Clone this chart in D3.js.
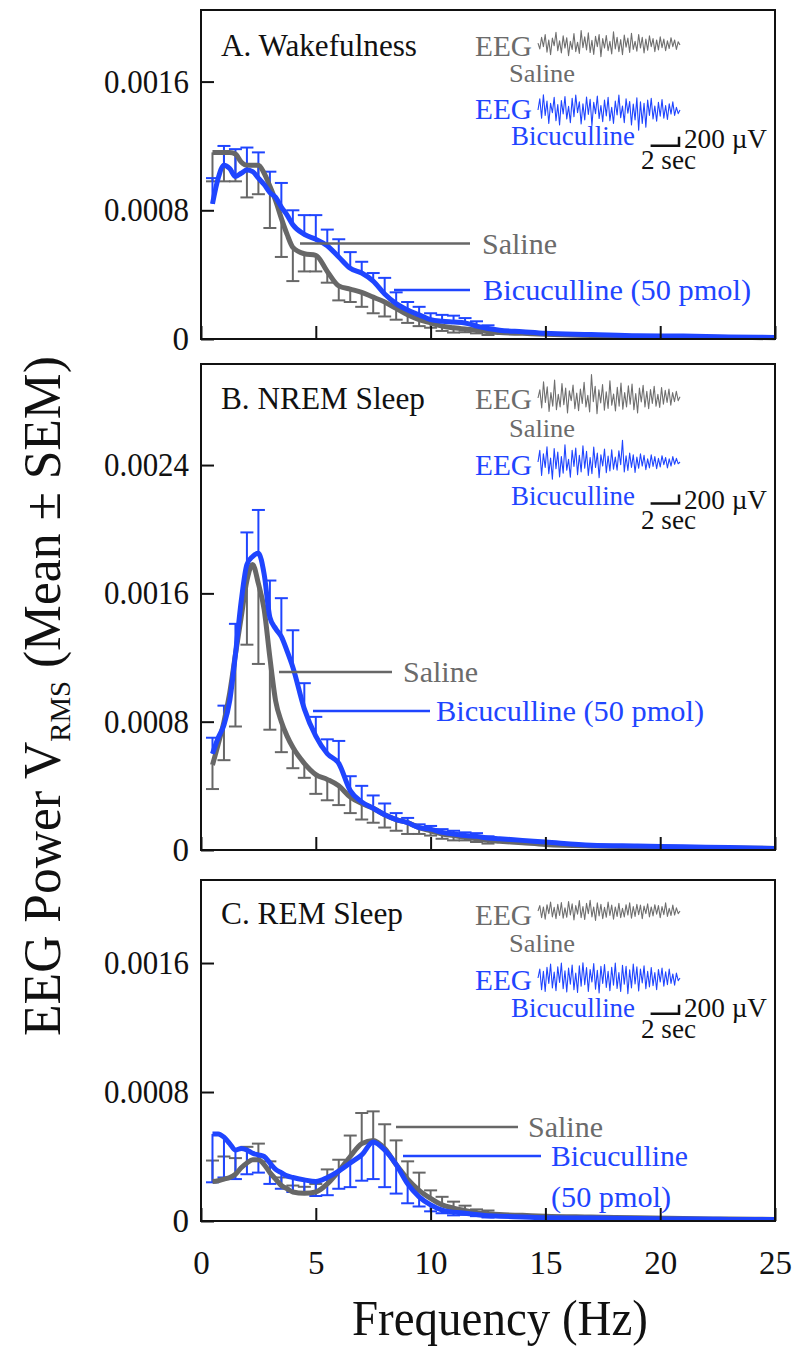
<!DOCTYPE html>
<html><head><meta charset="utf-8">
<script src="https://cdn.jsdelivr.net/npm/d3@7"></script>
<style>body{margin:0;background:#fff}svg{display:block}text{font-family:"Liberation Serif","Times New Roman",serif}</style>
</head><body>
<svg id="c" width="793" height="1346"></svg>
<script>
// ---------- DATA ----------
const freqs = [0.5,0.75,1,1.25,1.5,1.75,2,2.25,2.5,2.75,3,3.25,3.5,3.75,4,4.5,5,5.5,6,6.5,7,7.5,8,8.5,9,9.5,10,10.5,11,11.5,12,12.5,13,14,15,17,19,21,23,25];
const errFreqs = [0.5,1,1.5,2,2.5,3,3.5,4,4.5,5,5.5,6,6.5,7,7.5,8,8.5,9,9.5,10,10.5,11,11.5,12,12.5];
const xTicks = [0,5,10,15,20,25];
const yTicksA = [0,0.0008,0.0016];
const yTicksB = [0,0.0008,0.0016,0.0024];
const yTicksC = [0,0.0008,0.0016];

const wakeSaline = [0.00116,0.00116,0.00116,0.00116,0.00115,0.00110,0.00108,0.00108,0.00108,0.00103,0.00095,0.00086,0.00075,0.00065,0.00057,0.00053,0.00052,0.00042,0.00033,0.00031,0.00029,0.00026,0.00023,0.00019,0.00015,0.00012,0.00010,0.00008,0.00007,0.000062,0.000055,0.000045,0.00004,0.000035,0.00003,0.000022,0.000015,0.000012,0.00001,0.000008];
const wakeBic = [0.00084,0.00100,0.00108,0.00106,0.00101,0.00103,0.00105,0.00104,0.00100,0.00096,0.00091,0.00088,0.00082,0.00077,0.00071,0.00065,0.00062,0.00058,0.00051,0.00044,0.00041,0.00036,0.00028,0.00022,0.00018,0.00015,0.00012,0.00011,0.000105,0.0001,0.00008,0.000065,0.000055,0.000045,0.000035,0.000028,0.00002,0.000018,0.000012,0.00001];
const wakeSalineSEM = [0.00018,0.00018,0.00017,0.0002,0.00018,0.00026,0.00024,0.00021,0.00011,0.0001,0.00007,0.00009,0.00008,0.00009,0.0001,0.00009,0.00007,0.00005,0.00004,0.00003,0.00003,0.00003,0.00002,0.00002,0.00002];
const wakeBicSEM = [0.00016,0.00012,0.00017,0.00014,0.00016,0.00013,0.00015,0.00009,0.00012,0.00015,0.0001,0.00011,0.0001,0.00007,0.00005,0.0001,0.00007,0.00005,0.00005,0.00004,0.00004,0.00004,0.00003,0.00003,0.00002];

const nremSaline = [0.00053,0.00066,0.0008,0.00098,0.00122,0.00145,0.00168,0.00178,0.00166,0.0015,0.0012,0.00093,0.0008,0.00071,0.00064,0.00054,0.00047,0.00044,0.0004,0.00033,0.00029,0.00026,0.00022,0.00019,0.00017,0.00014,0.00012,0.0001,0.00009,0.00008,0.00007,0.00006,0.000055,0.000045,0.000035,0.000025,0.00002,0.000015,0.000012,0.00001];
const nremBic = [0.0006,0.0007,0.00078,0.00093,0.00122,0.00155,0.00178,0.00183,0.00185,0.00172,0.00145,0.00138,0.00133,0.00124,0.00114,0.00088,0.00071,0.0006,0.00054,0.00037,0.0003,0.00026,0.00022,0.00019,0.00017,0.00014,0.00013,0.00011,0.0001,0.00009,0.000085,0.000075,0.00007,0.00006,0.00005,0.00003,0.000025,0.00002,0.000015,0.00001];
const nremSalineSEM = [0.00015,0.00024,0.00045,0.0004,0.0005,0.00045,0.00019,0.00013,0.00009,0.00012,0.00013,0.00012,0.0001,0.0001,0.00009,0.00008,0.00007,0.00007,0.00004,0.00003,0.00003,0.00003,0.00002,0.00002,0.00002];
const nremBicSEM = [0.0001,0.00012,0.00019,0.0002,0.00027,0.00023,0.00024,0.00023,0.00016,0.00012,0.00009,0.00014,0.00009,0.0001,0.00008,0.00007,0.00004,0.00003,0.00002,0.00002,0.00002,0.00002,0.00002,0.00002,0.00001];

const remSaline = [0.000245,0.00025,0.00026,0.00027,0.00029,0.00033,0.00036,0.00038,0.00038,0.00035,0.0003,0.00026,0.00022,0.0002,0.00018,0.000172,0.00018,0.00023,0.00031,0.0004,0.00048,0.0005,0.00045,0.00035,0.00026,0.00019,0.00014,0.0001,0.00008,0.000065,0.000052,0.000045,0.00004,0.000035,0.00003,0.000025,0.00002,0.000015,0.000012,0.00001];
const remBic = [0.00054,0.00054,0.00052,0.00048,0.00044,0.00045,0.00044,0.00042,0.00041,0.0004,0.00036,0.00032,0.0003,0.00028,0.00027,0.000255,0.000245,0.00027,0.00031,0.00036,0.00041,0.00049,0.00044,0.00035,0.00023,0.00015,0.0001,0.000068,0.000055,0.000048,0.00004,0.000032,0.00003,0.000025,0.00002,0.000018,0.000015,0.000012,0.00001,0.00001];
const remSalineSEM = [0.00013,0.00014,0.0001,0.0001,0.0001,0.00007,0.00005,0.00004,0.00004,0.00005,0.00009,0.00007,0.00013,0.00019,0.00018,0.00015,0.00015,0.00011,0.00011,0.00005,0.00005,0.00004,0.00003,0.00002,0.00002];
const remBicSEM = [0.0003,0.00025,0.00018,0.00015,0.00011,0.00013,0.0001,0.00009,0.00008,0.00009,0.00011,0.00011,0.00015,0.00016,0.00023,0.00023,0.00018,0.00012,0.00006,0.00004,0.00002,0.00002,0.00001,0.00001,0.00001];

// EEG example traces (µV), 10 s each
const eegWakeSaline = [20,-110,150,-60,210,-180,90,-240,130,-40,260,-150,70,-200,180,-90,140,-260,60,-120,230,-170,40,-210,300,-80,160,-130,250,-190,80,-230,170,-60,210,-280,120,-90,190,-150,60,-220,270,-110,150,-170,100,-240,200,-70,130,-190,240,-120,60,-160,210,-90,150,-200,110,-140,180,-60,120,-170,90,-130,160,-80,110,-150,70,-100,140,-60,90,-120,50,-20];
const eegWakeBic = [0,250,-180,340,-120,200,-300,150,-60,280,-240,120,-330,210,-90,300,-200,80,-280,260,-150,330,-60,180,-310,140,-220,290,-100,240,-350,170,-80,310,-190,100,-260,220,-130,280,-240,60,-300,200,-110,330,-170,90,-280,250,-70,190,-330,130,-220,270,-450,180,-300,150,-380,220,-120,260,-200,90,-250,170,-140,230,-180,100,-210,140,-90,180,-120,60,-80,0];
const eegNremSaline = [0,180,-220,360,-100,250,-300,120,-180,400,-260,80,-200,320,-150,220,-330,160,-60,290,-240,110,-280,200,-120,350,-200,60,-310,520,-80,260,-350,180,-110,300,-270,140,-230,380,-160,90,-290,240,-180,330,-250,120,-200,270,-140,310,-260,100,-330,220,-90,280,-200,150,-240,190,-120,260,-180,80,-210,230,-140,170,-100,200,-160,120,-80,150,-60,30];
const eegNremBic = [0,260,-300,180,-120,340,-260,90,-380,300,-150,220,-330,120,-250,380,-180,60,-340,260,-100,310,-280,150,-220,360,-140,240,-300,100,-260,330,-120,200,-350,160,-90,290,-240,130,-200,270,-160,110,-180,250,-60,480,-220,140,-190,200,-120,160,-230,110,-140,180,-90,150,-170,70,-130,160,-100,120,-150,80,-110,140,-60,100,-130,70,-90,120,-50,80,-40,0];
const eegRemSaline = [0,120,-150,90,-180,140,-60,200,-130,80,-170,150,-100,190,-160,70,-140,210,-90,160,-200,120,-70,230,-150,100,-190,170,-60,240,-130,90,-210,180,-110,150,-170,80,-140,200,-100,130,-180,90,-120,170,-150,60,-130,140,-90,180,-160,100,-120,150,-80,130,-170,110,-60,160,-130,90,-110,140,-70,120,-150,100,-80,180,-120,60,-100,130,-90,70,-60,0];
const eegRemBic = [0,200,-260,150,-300,240,-120,310,-220,130,-280,250,-100,330,-240,160,-310,220,-140,290,-260,110,-320,270,-180,340,-150,230,-300,190,-90,320,-250,170,-330,260,-120,300,-210,150,-280,240,-160,330,-230,120,-300,280,-140,260,-350,180,-220,310,-130,250,-290,200,-110,270,-240,150,-200,230,-170,120,-260,190,-90,220,-180,140,-150,200,-120,90,-160,110,-60,0];

// ---------- STYLE / LAYOUT ----------
const GRAY = "#676767", GRAYT = "#6b6b6b", BLUE = "#1f45ff", INK = "#111";
const svg = d3.select("#c");
const x = d3.scaleLinear().domain([0,25]).range([201,775]);

const panels = [
  {title:"A. Wakefulness", titleW:196, top:10, bottom:339, yMax:0.002045, yTicks:yTicksA,
   sal:wakeSaline, bic:wakeBic, salSem:wakeSalineSEM, bicSem:wakeBicSEM, salDir:-1, bicDir:1,
   eegS:eegWakeSaline, eegB:eegWakeBic,
   ins:{eeg:55.5, saline:82, eegB:118.5, bic:145, bar:145.7, uv:148, sec:169, cs:44, cb:110},
   leg:{sx1:300, sx2:470, sy:243.5, stx:482, bx1:394, bx2:470, by:290, btx:483, split:false}, xLabels:false},
  {title:"B. NREM Sleep", titleW:204, top:364, bottom:850, yMax:0.00303, yTicks:yTicksB,
   sal:nremSaline, bic:nremBic, salSem:nremSalineSEM, bicSem:nremBicSEM, salDir:-1, bicDir:1,
   eegS:eegNremSaline, eegB:eegNremBic,
   ins:{eeg:409, saline:437, eegB:475, bic:505, bar:503.6, uv:508.6, sec:529, cs:398, cb:462},
   leg:{sx1:279, sx2:392, sy:672, stx:403, bx1:313, bx2:430, by:711, btx:436, split:false}, xLabels:false},
  {title:"C. REM Sleep", titleW:182, top:880, bottom:1221, yMax:0.002115, yTicks:yTicksC,
   sal:remSaline, bic:remBic, salSem:remSalineSEM, bicSem:remBicSEM, salDir:1, bicDir:-1,
   eegS:eegRemSaline, eegB:eegRemBic,
   ins:{eeg:925, saline:952, eegB:989.6, bic:1016.5, bar:1013.8, uv:1016.5, sec:1038, cs:911, cb:978},
   leg:{sx1:396, sx2:518, sy:1127, stx:528, bx1:403, bx2:541, by:1156, btx:551, split:true}, xLabels:true}
];

function fit(sel, w){ return sel.attr("textLength", w).attr("lengthAdjust","spacingAndGlyphs"); }
const yFmt = d => d === 0 ? "0" : d.toFixed(4);

panels.forEach(P => {
  const y = d3.scaleLinear().domain([0, P.yMax]).range([P.bottom, P.top]);
  const g = svg.append("g");

  // error bars
  function bars(vals, sems, dir, color){
    const data = errFreqs.map((f,i) => ({f, m: vals[freqs.indexOf(f)], e: vals[freqs.indexOf(f)] + dir*sems[i]}));
    const bg = g.append("g").attr("stroke", color).attr("stroke-width", 2);
    bg.selectAll("line.v").data(data).join("line").attr("class","v")
      .attr("x1", d => x(d.f)).attr("x2", d => x(d.f))
      .attr("y1", d => y(d.m)).attr("y2", d => y(d.e));
    bg.selectAll("line.c").data(data).join("line").attr("class","c")
      .attr("x1", d => x(d.f)-6.5).attr("x2", d => x(d.f)+6.5)
      .attr("y1", d => y(d.e)).attr("y2", d => y(d.e));
  }
  bars(P.sal, P.salSem, P.salDir, GRAY);
  bars(P.bic, P.bicSem, P.bicDir, BLUE);

  const line = d3.line().x(d => x(d[0])).y(d => y(d[1])).curve(d3.curveMonotoneX);
  g.append("path").attr("d", line(freqs.map((f,i)=>[f,P.sal[i]])))
    .attr("fill","none").attr("stroke",GRAY).attr("stroke-width",5).attr("stroke-linejoin","round");
  g.append("path").attr("d", line(freqs.map((f,i)=>[f,P.bic[i]])))
    .attr("fill","none").attr("stroke",BLUE).attr("stroke-width",5).attr("stroke-linejoin","round");

  // frame
  svg.append("rect").attr("x",201).attr("y",P.top).attr("width",574).attr("height",P.bottom-P.top)
    .attr("fill","none").attr("stroke",INK).attr("stroke-width",2);

  // axes
  const ya = svg.append("g").attr("transform","translate(201,0)")
    .call(d3.axisLeft(y).tickValues(P.yTicks).tickSize(-13).tickPadding(12).tickFormat(yFmt));
  ya.select(".domain").remove();
  ya.selectAll("line").attr("stroke",INK).attr("stroke-width",2);
  ya.selectAll("text").attr("font-size",33).attr("fill",INK)
    .each(function(d){ if(d!==0) fit(d3.select(this),85); });

  const xa = svg.append("g").attr("transform",`translate(0,${P.bottom})`)
    .call(d3.axisBottom(x).tickValues(xTicks).tickSize(-13).tickFormat(P.xLabels ? d3.format("d") : ""));
  xa.select(".domain").remove();
  xa.selectAll("line").attr("stroke",INK).attr("stroke-width",2);
  xa.selectAll("text").attr("font-size",33).attr("fill",INK).attr("y",53).attr("dy",0);

  // title
  fit(svg.append("text").attr("x",221).attr("y",P.title==="A. Wakefulness"?55.5:(P.title[0]==="B"?409:924))
    .attr("font-size",31).attr("fill",INK).text(P.title), P.titleW);

  // legend
  const L = P.leg;
  svg.append("line").attr("x1",L.sx1).attr("x2",L.sx2).attr("y1",L.sy).attr("y2",L.sy).attr("stroke",GRAY).attr("stroke-width",2.5);
  svg.append("line").attr("x1",L.bx1).attr("x2",L.bx2).attr("y1",L.by).attr("y2",L.by).attr("stroke",BLUE).attr("stroke-width",2.5);
  fit(svg.append("text").attr("x",L.stx).attr("y",L.sy+10).attr("font-size",30).attr("fill",GRAYT).text("Saline"),75);
  if(!L.split){
    fit(svg.append("text").attr("x",L.btx).attr("y",L.by+10).attr("font-size",30).attr("fill",BLUE).text("Bicuculline (50 pmol)"),268);
  } else {
    fit(svg.append("text").attr("x",L.btx).attr("y",L.by+10).attr("font-size",30).attr("fill",BLUE).text("Bicuculline"),137);
    fit(svg.append("text").attr("x",L.btx).attr("y",L.by+51).attr("font-size",30).attr("fill",BLUE).text("(50 pmol)"),120);
  }

  // inset EEG traces
  const I = P.ins;
  const tx = d3.scaleLinear().domain([0,10]).range([538,680]);
  function trace(vals, cy, color){
    const ty = d3.scaleLinear().domain([-200,200]).range([cy+9, cy-9]);
    const n = vals.length;
    svg.append("path").attr("d", d3.line().x((d,i)=>tx(i*10/(n-1))).y(d=>ty(d))(vals))
      .attr("fill","none").attr("stroke",color).attr("stroke-width",1.1).attr("stroke-linejoin","round");
  }
  trace(P.eegS, I.cs, "#6f6f6f");
  trace(P.eegB, I.cb, BLUE);
  fit(svg.append("text").attr("x",475).attr("y",I.eeg).attr("font-size",29).attr("fill",GRAYT).text("EEG"),57);
  fit(svg.append("text").attr("x",509).attr("y",I.saline).attr("font-size",26).attr("fill",GRAYT).text("Saline"),66);
  fit(svg.append("text").attr("x",475).attr("y",I.eegB).attr("font-size",29).attr("fill",BLUE).text("EEG"),57);
  fit(svg.append("text").attr("x",511).attr("y",I.bic).attr("font-size",27).attr("fill",BLUE).text("Bicuculline"),124);
  // scale bar: 2 sec horizontal, 200 µV vertical
  const sbY = d3.scaleLinear().domain([0,200]).range([I.bar, I.bar-9]);
  const x0 = 679 - (tx(2)-tx(0));
  svg.append("path").attr("d",`M${x0},${sbY(0)}H679V${sbY(200)}`).attr("fill","none").attr("stroke",INK).attr("stroke-width",2.5);
  fit(svg.append("text").attr("x",684).attr("y",I.uv).attr("font-size",28).attr("fill",INK).text("200 µV"),83);
  fit(svg.append("text").attr("x",641).attr("y",I.sec).attr("font-size",27).attr("fill",INK).text("2 sec"),55);
});

// axis titles
fit(svg.append("text").attr("x",500).attr("y",1335).attr("text-anchor","middle").attr("font-size",50).attr("fill",INK).text("Frequency (Hz)"),296);

const yt = svg.append("text").attr("font-size",52).attr("text-anchor","middle").attr("fill",INK);
yt.append("tspan").text("EEG Power V");
yt.append("tspan").attr("font-size",29).attr("dy",10).text("RMS");
yt.append("tspan").attr("dy",-10).text(" (Mean \u00B1 SEM)");
const ylen = yt.node().getComputedTextLength();
yt.attr("transform",`translate(60,696) rotate(-90) scale(${680/ylen},1)`);
</script>
</body></html>
